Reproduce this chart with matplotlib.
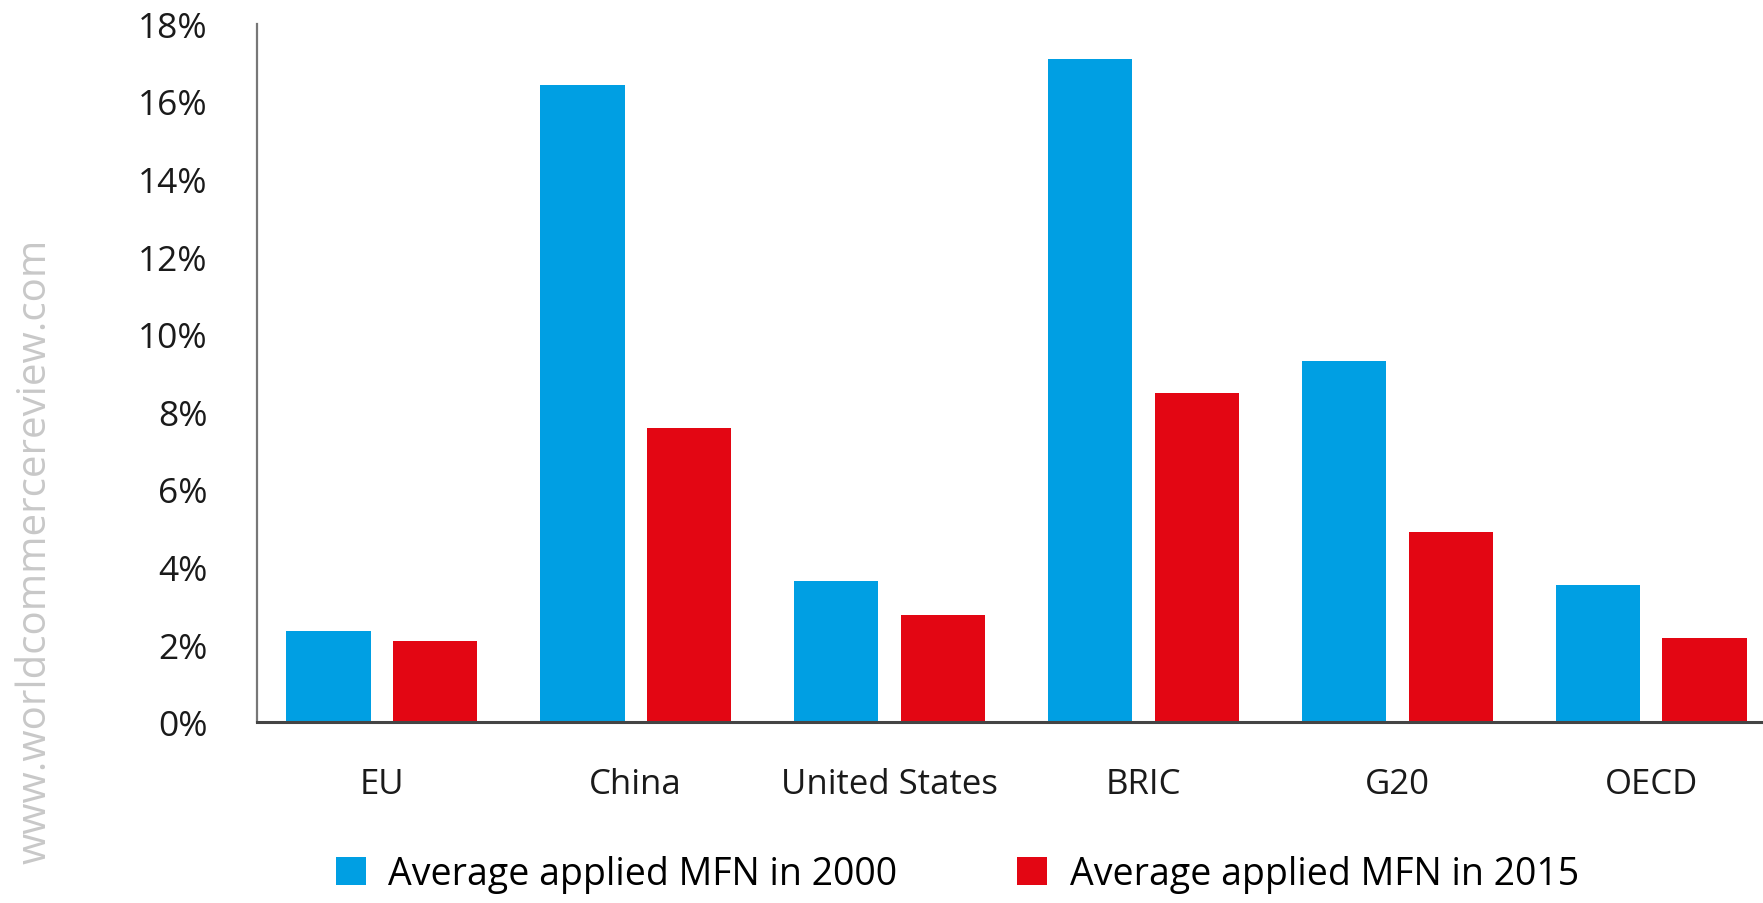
import matplotlib.pyplot as plt
from matplotlib.patches import Patch
import numpy as np

plt.rcParams['font.family'] = ['Open Sans', 'DejaVu Sans']

# average applied MFN tariff, percent
regions = ["EU", "China", "United States", "BRIC", "G20", "OECD"]
mfn_2000 = [2.34, 16.41, 3.64, 17.09, 9.30, 3.53]
mfn_2015 = [2.09, 7.59, 2.77, 8.48, 4.91, 2.17]
series_labels = ["Average applied MFN in 2000", "Average applied MFN in 2015"]
yticks = [0, 2, 4, 6, 8, 10, 12, 14, 16, 18]

BLUE = "#009FE3"
RED = "#E30613"

fig = plt.figure(figsize=(17.63, 9.04), dpi=100)
ax = fig.add_axes([0.146, 0.200, 0.854, 0.7727])

x = np.arange(len(regions))
width = 0.332
ax.bar(x - 0.21, mfn_2000, width, color=BLUE)
ax.bar(x + 0.21, mfn_2015, width, color=RED)

ax.set_xlim(-0.49, 5.44)
ax.set_ylim(0, 18)
ax.set_yticks(yticks)
ax.set_yticklabels([f"{t}%" for t in yticks])
ax.set_xticks(x)
ax.set_xticklabels(regions)
ax.tick_params(axis="both", length=0, colors="#1a1a1a")
ax.tick_params(axis="y", pad=36, labelsize=25.5)
ax.tick_params(axis="x", pad=32, labelsize=25)

for side in ("top", "right"):
    ax.spines[side].set_visible(False)
ax.spines["left"].set_color("#777777")
ax.spines["left"].set_linewidth(1.6)
ax.spines["bottom"].set_color("#444444")
ax.spines["bottom"].set_linewidth(2.2)

handles = [Patch(facecolor=BLUE), Patch(facecolor=RED)]
fig.legend(handles, series_labels, loc="center", bbox_to_anchor=(0.543, 0.032),
           ncol=2, frameon=False, fontsize=27, handlelength=0.8, handleheight=0.8,
           handletextpad=0.6, columnspacing=3.2)

fig.text(0.02, 0.39, "www.worldcommercereview.com", rotation=90,
         ha="center", va="center", fontsize=29, color="#c8c8c8")

fig.savefig("out.png", dpi=100)
